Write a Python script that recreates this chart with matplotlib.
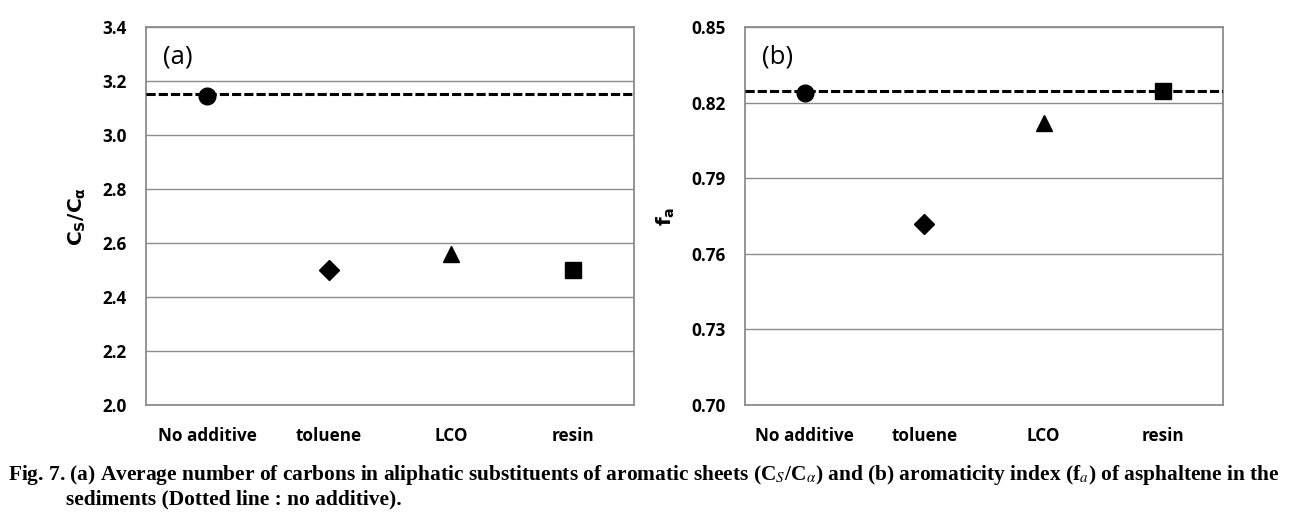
import matplotlib
matplotlib.use("Agg")
import matplotlib.pyplot as plt

# data
categories = ["No additive", "toluene", "LCO", "resin"]
markers = ["o", "D", "^", "s"]
msizes = [12, 10, 12, 12]

cs_ca = [3.145, 2.50, 2.56, 2.50]
cs_ca_ref = 3.153
fa = [0.824, 0.772, 0.812, 0.8245]
fa_ref = 0.8245

cs_ticks = [2.0, 2.2, 2.4, 2.6, 2.8, 3.0, 3.2, 3.4]
fa_ticks = [0.70, 0.73, 0.76, 0.79, 0.82, 0.85]

tick_font = "Open Sans"
grid_col = "#8c8c8c"

fig = plt.figure(figsize=(12.91, 5.22), dpi=100)
ax1 = fig.add_axes([146 / 1291, 117 / 522, 488 / 1291, 378 / 522])
ax2 = fig.add_axes([745 / 1291, 117 / 522, 478 / 1291, 378 / 522])


def draw_panel(ax, vals, ref, ticks, fmt, label, ylabel):
    x = list(range(len(categories)))
    for xi, v, m, ms in zip(x, vals, markers, msizes):
        ax.plot(xi, v, marker=m, ms=ms, color="black", ls="none", zorder=4)
    ax.axhline(ref, color="black", lw=2.2, ls=(0, (3, 1)), zorder=3)
    ax.set_xlim(-0.5, 3.5)
    ax.set_ylim(ticks[0], ticks[-1])
    ax.set_yticks(ticks)
    ax.set_yticklabels([fmt.format(t) for t in ticks], fontfamily=tick_font,
                       fontweight="bold", fontsize=12.3)
    ax.set_xticks(x)
    ax.set_xticklabels(categories, fontfamily=tick_font, fontweight="bold", fontsize=12.3)
    ax.tick_params(axis="both", length=0)
    ax.tick_params(axis="y", pad=14)
    ax.tick_params(axis="x", pad=16)
    ax.yaxis.grid(True, color=grid_col, lw=1.0)
    ax.set_axisbelow(True)
    for s in ax.spines.values():
        s.set_color(grid_col)
        s.set_linewidth(1.3)
    ax.text(0.035, 0.92, label, transform=ax.transAxes, fontsize=18.5,
            fontfamily=tick_font, va="center", ha="left")
    ax.set_ylabel(ylabel, fontsize=14.5, fontweight="bold", labelpad=10)


draw_panel(ax1, cs_ca, cs_ca_ref, cs_ticks, "{:.1f}", "(a)", r"$\mathbf{C_S/C_\alpha}$")
draw_panel(ax2, fa, fa_ref, fa_ticks, "{:.2f}", "(b)", r"$\mathbf{f_a}$")

cap_kw = dict(fontfamily="Liberation Serif", fontweight="bold", fontsize=15.4,
              math_fontfamily="stix", va="baseline", ha="left")
fig.text(8 / 1291, 1 - 480 / 522,
         r"Fig. 7. (a) Average number of carbons in aliphatic substituents of aromatic sheets "
         r"(C$_{\mathit{S}}$/C$_{\mathit{\alpha}}$) and (b) aromaticity index (f$_{\mathit{a}}$) "
         r"of asphaltene in the", **cap_kw)
fig.text(66 / 1291, 1 - 504 / 522, "sediments (Dotted line : no additive).", **cap_kw)

fig.savefig("out.png", dpi=100)
